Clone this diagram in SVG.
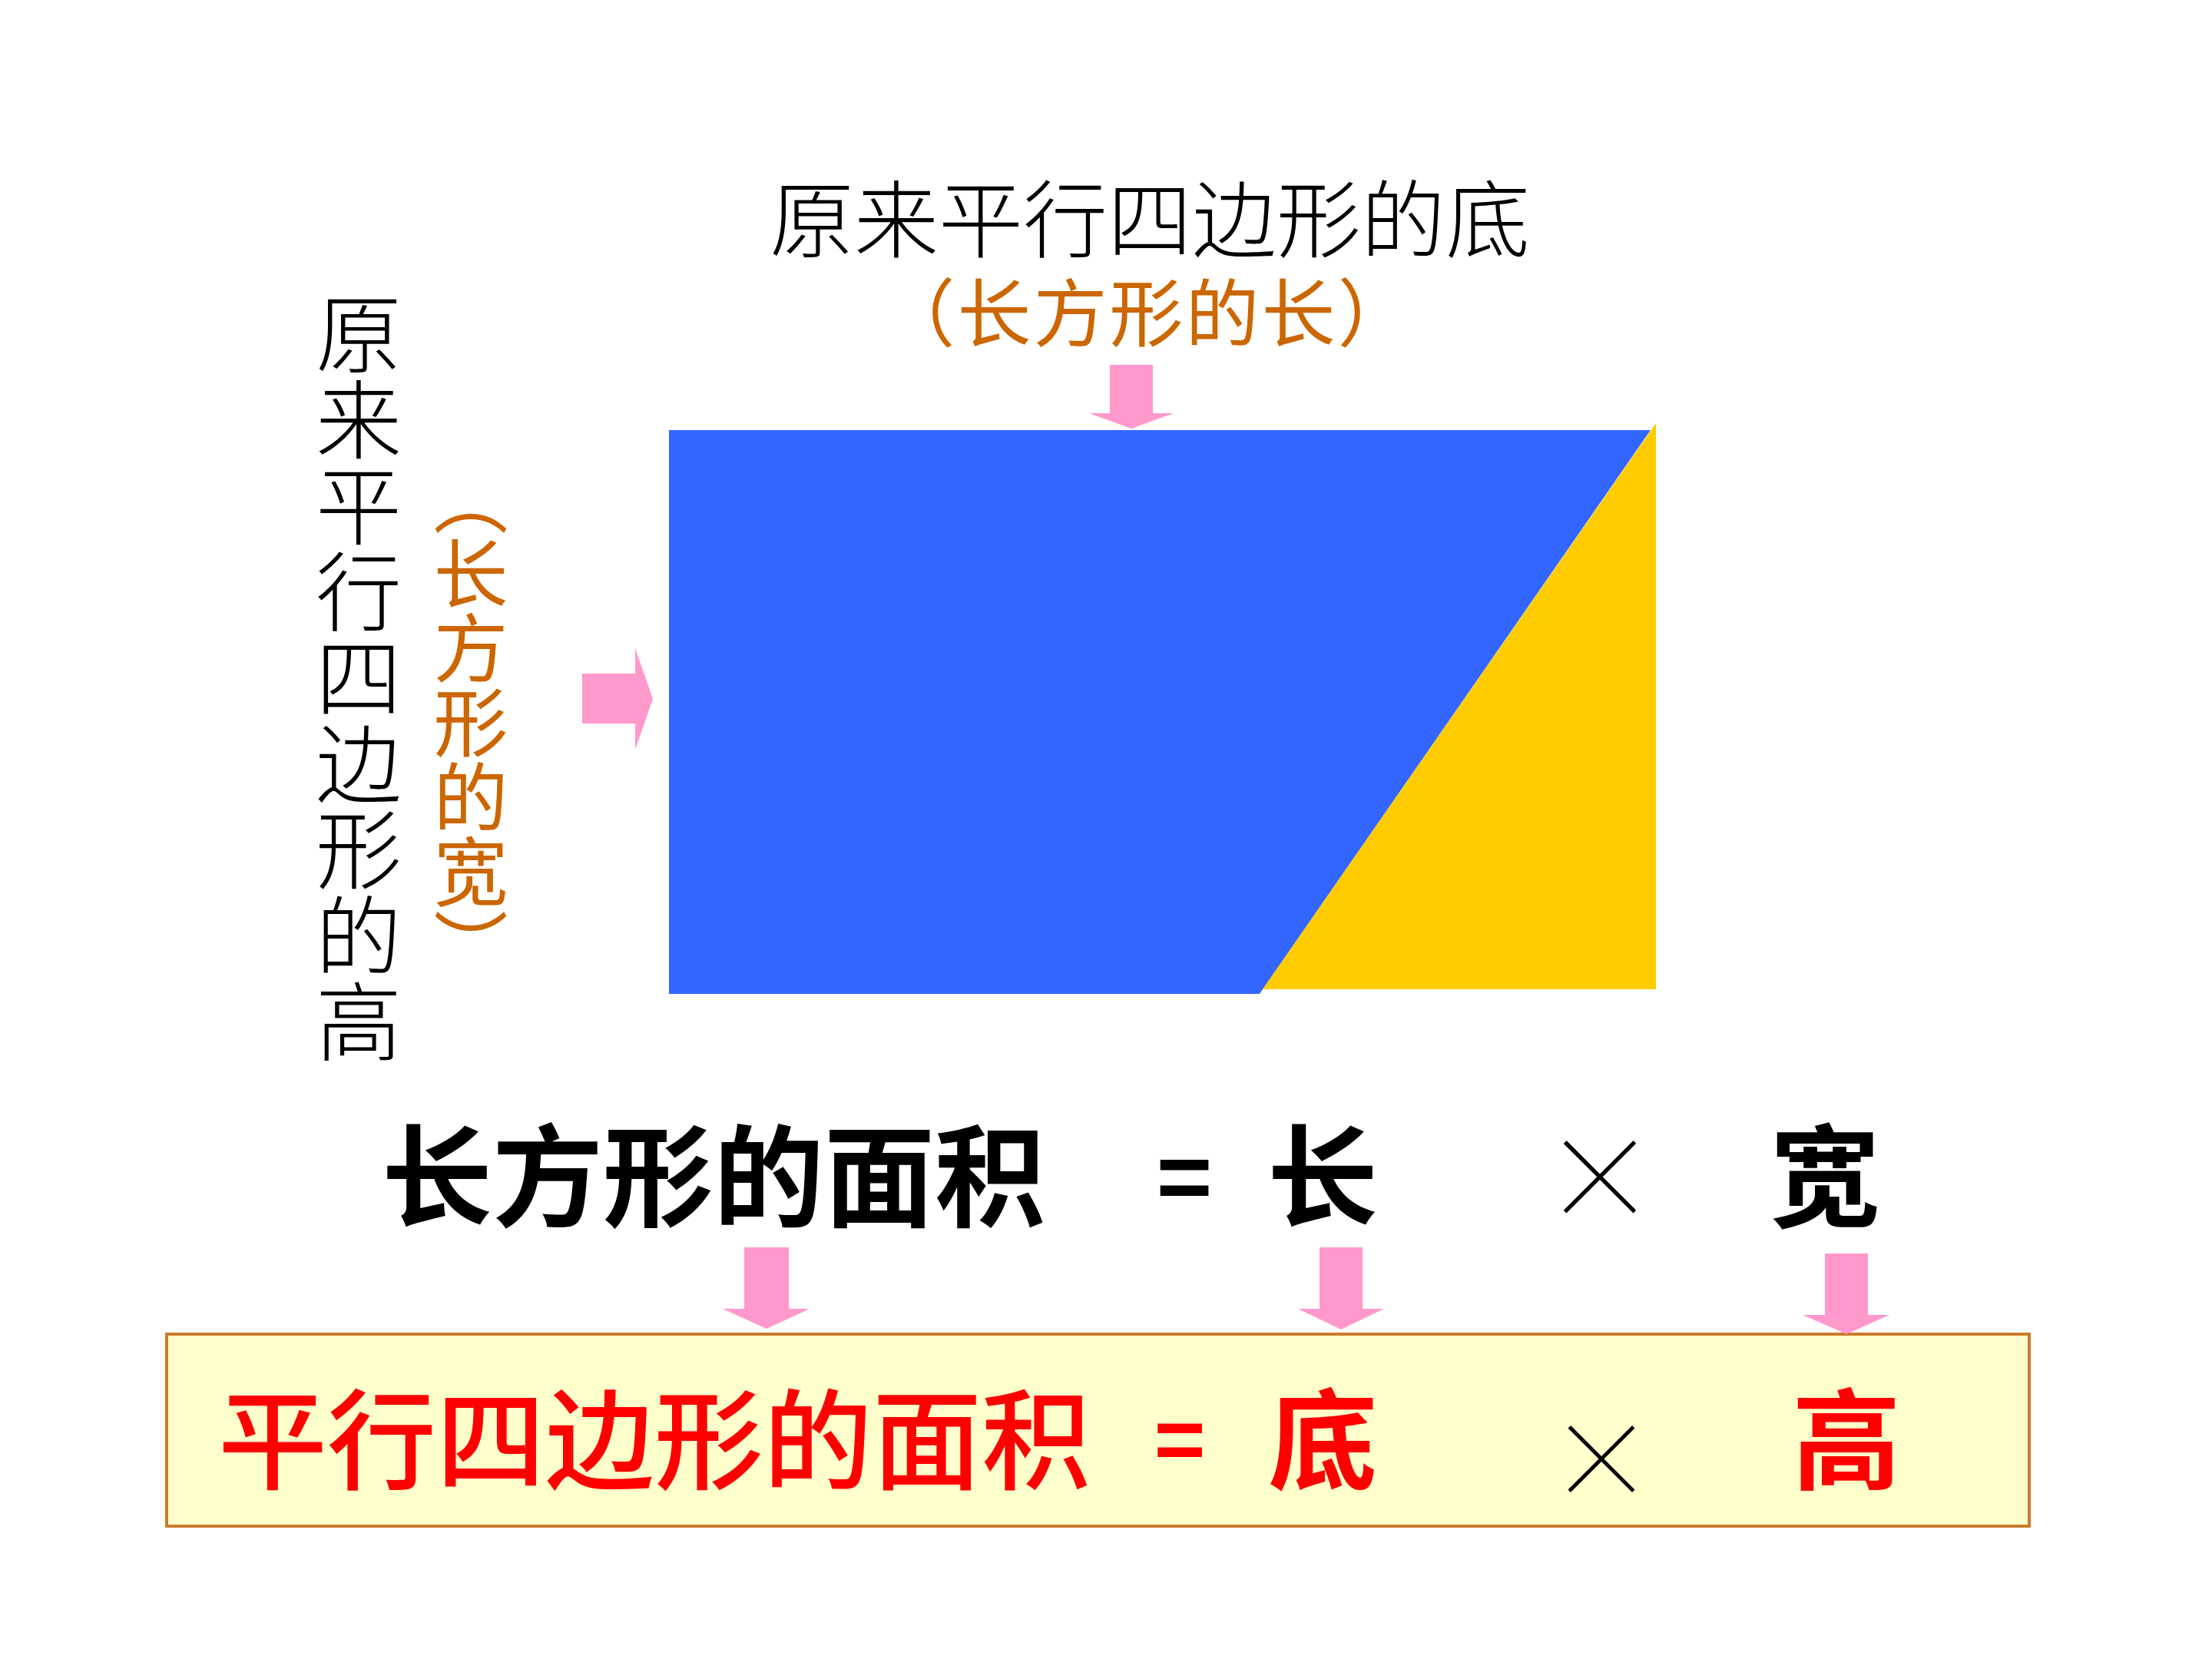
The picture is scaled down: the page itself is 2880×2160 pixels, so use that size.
<svg xmlns="http://www.w3.org/2000/svg" width="2880" height="2160" viewBox="0 0 2880 2160">
<style>
.serif{font-family:"Noto Sans CJK SC","Noto Sans CJK TC",sans-serif;font-weight:300;fill:#000}
.org{font-family:"Noto Sans CJK SC",sans-serif;font-weight:400;fill:#CC6600}
.blk{font-family:"Noto Sans CJK SC",sans-serif;font-weight:700;fill:#000}
.red{font-family:"Noto Sans CJK SC",sans-serif;font-weight:700;fill:#FF0000}
.redm{font-family:"Noto Sans CJK SC",sans-serif;font-weight:500;fill:#FF0000}
.eq{font-family:"Liberation Sans",Arial,sans-serif;font-weight:700}
.mul{font-family:"Noto Sans CJK SC",sans-serif;font-weight:100;fill:#000}
.vert{writing-mode:vertical-rl}
.arrow{fill:#FF99CC}
</style>
<rect width="2880" height="2160" fill="#FFFFFF"/>
<g id="shape">
<polygon points="871,560 2149,560 1640,1294 871,1294" fill="#3366FF"/>
<polygon points="2156,551 2156,1288 1644,1288" fill="#FFCC00"/>
</g>
<g id="label-base">
<text class="serif" x="1497" y="327" font-size="110" text-anchor="middle">原来平行四边形的底</text>
<text class="org" x="1494" y="443" font-size="96" text-anchor="middle" letter-spacing="3">（长方形的长）</text>
</g>
<g id="label-height">
<text class="serif vert" x="467" y="882" font-size="112" text-anchor="middle">原来平行四边形的高</text>
<text class="org vert" x="613" y="940" font-size="97" text-anchor="middle">（长方形的宽）</text>
</g>
<g id="formula-rect">
<text class="blk" x="929" y="1586" font-size="144" text-anchor="middle">长方形的面积</text>
<text class="eq" x="1542" y="1575" font-size="125" text-anchor="middle" fill="#000">=</text>
<text class="blk" x="1722" y="1586" font-size="144" text-anchor="middle">长</text>
<text class="mul" x="2083" y="1588" font-size="150" text-anchor="middle">×</text>
<text class="blk" x="2376" y="1586" font-size="144" text-anchor="middle">宽</text>
</g>
<g id="formula-para">
<rect x="217" y="1737" width="2425" height="250" fill="#FFFFCC" stroke="#CC7A2C" stroke-width="4"/>
<text class="redm" x="852" y="1928" font-size="142" text-anchor="middle">平行四边形的面积</text>
<text class="eq" x="1536" y="1913" font-size="115" text-anchor="middle" fill="#FF0000">=</text>
<text class="red" x="1722" y="1928" font-size="142" text-anchor="middle">底</text>
<text class="mul" x="2085" y="1950" font-size="138" text-anchor="middle">×</text>
<text class="red" x="2404" y="1928" font-size="142" text-anchor="middle">高</text>
</g>
<g id="connectors">
<polygon class="arrow" points="1445,475 1501,475 1501,538 1528,538 1473,558 1418,538 1445,538"/>
<polygon class="arrow" points="758,877 827,877 827,844 850,910 827,976 827,942 758,942"/>
<polygon class="arrow" points="969,1624 1027,1624 1027,1704 1054,1704 998,1730 941,1704 969,1704"/>
<polygon class="arrow" points="1718,1624 1774,1624 1774,1704 1802,1704 1746,1731 1690,1704 1718,1704"/>
<polygon class="arrow" points="2376,1632 2432,1632 2432,1712 2460,1712 2404,1737 2347,1712 2376,1712"/>
</g>
</svg>
